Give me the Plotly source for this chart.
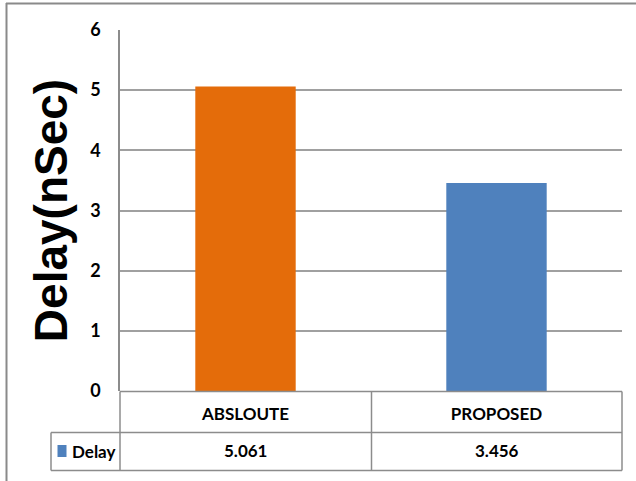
import plotly.graph_objects as go

# ---- data ----
categories = ["ABSLOUTE", "PROPOSED"]
series_name = "Delay"
delay_values = [5.061, 3.456]
value_labels = ["5.061", "3.456"]
y_ticks = [0, 1, 2, 3, 4, 5, 6]
y_title = "Delay(nSec)"

# ---- style ----
bar_colors = ["#E46C0A", "#4F81BD"]
legend_color = "#4F81BD"
W, H = 636, 481
L, R, T, B = 120, 14, 30, 90
PW, PH = W - L - R, H - T - B
line_col = "#8C8C8C"
grid_col = "#A0A0A0"
txt_font = "Lato, Noto Sans, sans-serif"


def px(x):
    return (x - L) / PW


def py(y):
    return (H - B - y) / PH


fig = go.Figure()
fig.add_trace(go.Bar(
    x=categories, y=delay_values, name=series_name,
    marker=dict(color=bar_colors, line=dict(width=0)),
    width=0.4, showlegend=False, hoverinfo="skip",
))

shapes = []


def hline(x0, x1, y, color=line_col, w=1.5):
    shapes.append(dict(type="line", xref="paper", yref="paper",
                       x0=px(x0), x1=px(x1), y0=py(y), y1=py(y),
                       line=dict(color=color, width=w)))


def vline(x, y0, y1, color=line_col, w=1.5):
    shapes.append(dict(type="line", xref="paper", yref="paper",
                       x0=px(x), x1=px(x), y0=py(y0), y1=py(y1),
                       line=dict(color=color, width=w)))


# data table grid
hline(120, 622, 391.5)
hline(51, 622, 432.5)
hline(51, 622, 470.5)
vline(120, 391.5, 470.5)
vline(371.5, 391.5, 470.5)
vline(622, 391.5, 470.5)
vline(51, 432.5, 470.5)
# outer chart border (left + top)
hline(6, 640, 3.5, color="#8A8A8A", w=2)
vline(6.5, 3, 485, color="#8A8A8A", w=2)

# legend key square
shapes.append(dict(type="rect", xref="paper", yref="paper",
                   x0=px(57.5), x1=px(66.5), y0=py(457), y1=py(445),
                   fillcolor=legend_color, line=dict(width=0)))

annotations = []
annotations.append(dict(xref="paper", yref="paper", x=px(70), y=py(451),
                        text="<b>" + series_name + "</b>", showarrow=False,
                        xanchor="left", yanchor="middle",
                        font=dict(family=txt_font, size=17, color="#000")))
for c, v in zip(categories, value_labels):
    annotations.append(dict(xref="x", yref="paper", x=c, y=py(450),
                            text="<b>" + v + "</b>", showarrow=False,
                            xanchor="center", yanchor="middle",
                            font=dict(family=txt_font, size=17, color="#000")))

fig.update_layout(
    width=W, height=H,
    margin=dict(l=L, r=R, t=T, b=B, autoexpand=False),
    paper_bgcolor="white", plot_bgcolor="white",
    bargap=0.6,
    shapes=shapes, annotations=annotations,
    xaxis=dict(
        showgrid=False, showline=False, zeroline=False,
        tickvals=categories,
        ticktext=["<b>" + c + "</b>" for c in categories],
        tickfont=dict(family=txt_font, size=17, color="#000"),
        ticks="outside", ticklen=8, tickcolor="rgba(0,0,0,0)",
    ),
    yaxis=dict(
        range=[0, 6], tickvals=y_ticks,
        ticktext=["<b>%d</b>" % t for t in y_ticks],
        showgrid=True, gridcolor=grid_col, gridwidth=1.5,
        zeroline=False, showline=True, linecolor=line_col, linewidth=1.5,
        tickfont=dict(family=txt_font, size=18, color="#000"),
        ticks="outside", ticklen=14, tickcolor="rgba(0,0,0,0)",
        title=dict(text="<b>" + y_title + "</b>",
                   font=dict(family="Liberation Sans, Arial, sans-serif", size=46, color="#000"),
                   standoff=8),
    ),
)

fig.write_html("out.html", config={"displayModeBar": False},
               post_script="document.body.style.margin='0';")
